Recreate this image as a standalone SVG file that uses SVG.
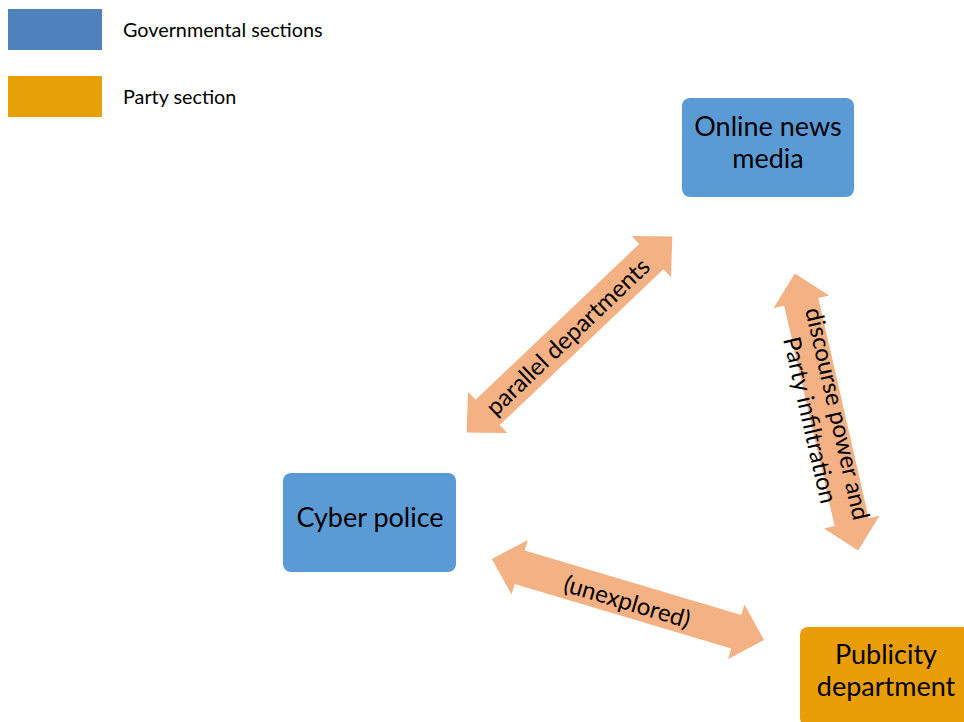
<svg xmlns="http://www.w3.org/2000/svg" width="964" height="722" viewBox="0 0 964 722">
<style>
  .t { font-family: Lato, "Liberation Sans", sans-serif; fill: #000; }
  .leg { font-size: 19.8px; }
  .node { font-size: 27px; text-anchor: middle; }
  .lbl { font-size: 24px; text-anchor: middle; }
  .gov { fill: #5B9BD5; }
  .arrow { fill: #F4B183; }
</style>
<defs>
  <path id="dblArrow" d="M -142,0 L -113,-28.5 L -113,-17.5 L 113,-17.5 L 113,-28.5 L 142,0 L 113,28.5 L 113,17.5 L -113,17.5 L -113,28.5 Z"/>
</defs>
<rect width="964" height="722" fill="#fff"/>
<g id="legend">
  <rect x="8" y="9" width="94" height="41" fill="#4F81BD"/>
  <text class="t leg" x="123" y="37">Governmental sections</text>
  <rect x="8" y="76" width="94" height="41" fill="#E8A008"/>
  <text class="t leg" x="123" y="104">Party section</text>
</g>
<g id="connectors">
  <g id="c1">
    <use href="#dblArrow" class="arrow" transform="translate(569.5,334.5) rotate(-43.6)"/>
    <text class="t lbl" transform="translate(568,337) rotate(-43.6)" y="8">parallel departments</text>
  </g>
  <g id="c2">
    <use href="#dblArrow" class="arrow" transform="translate(826.5,412) rotate(77.1)"/>
    <text class="t lbl" transform="translate(823.5,417) rotate(77.1)"><tspan x="0" y="-6">discourse power and</tspan><tspan x="0" y="22">Party infiltration</tspan></text>
  </g>
  <g id="c3">
    <use href="#dblArrow" class="arrow" transform="translate(628,599.5) rotate(16.6)"/>
    <text class="t lbl" transform="translate(627,602) rotate(16.6)" y="8">(unexplored)</text>
  </g>
</g>
<g id="online-news-media">
  <rect x="682" y="98" width="172" height="99" rx="8" class="gov"/>
  <text class="t node" x="768" y="136">Online news</text>
  <text class="t node" x="768" y="168">media</text>
</g>
<g id="cyber-police">
  <rect x="283" y="473" width="173" height="99" rx="8" class="gov"/>
  <text class="t node" x="370" y="527">Cyber police</text>
</g>
<g id="publicity-department">
  <rect x="800" y="627" width="172" height="99" rx="8" fill="#E99E07"/>
  <text class="t node" x="886" y="664">Publicity</text>
  <text class="t node" x="886" y="696">department</text>
</g>
</svg>
